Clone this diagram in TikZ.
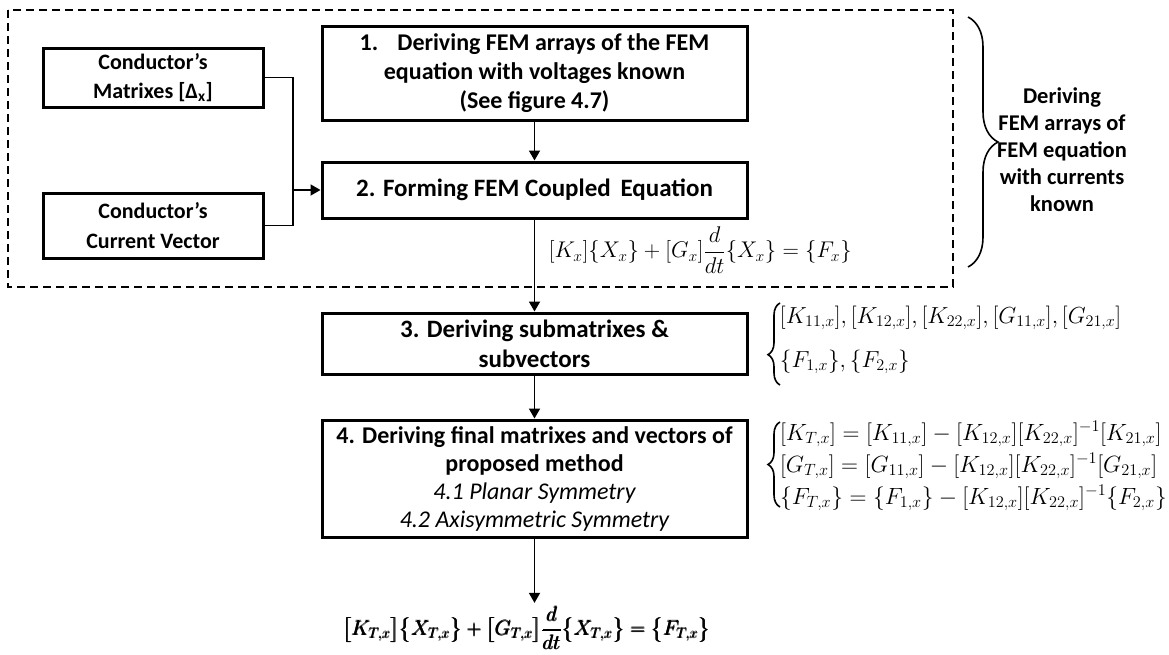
\documentclass[tikz,border=0pt]{standalone}
\usepackage{amsmath, amssymb}
\usepackage{fontspec}
\setmainfont{Carlito}
\usepackage{tikz}
\usetikzlibrary{arrows.meta, decorations.pathreplacing}

\newcommand{\resulteq}{%
  $\pmb{\bigl[K_{T,x}\bigr]\bigl\{X_{T,x}\bigr\} + \bigl[G_{T,x}\bigr]\dfrac{d}{dt}\bigl\{X_{T,x}\bigr\} = \bigl\{F_{T,x}\bigr\}}$}

\tikzset{
  stepbox/.style={draw, line width=3pt, align=center, inner sep=2pt,
    font=\fontsize{24}{29}\selectfont\bfseries},
  arr/.style={-{Triangle[length=10pt,width=11pt]}, line width=1.8pt},
  conn/.style={line width=1.8pt},
  grp/.style={line width=1.8pt, dash pattern=on 8pt off 5pt},
  brc/.style={decorate, decoration={brace, amplitude=#1}, line width=1.6pt},
}

\begin{document}
\begin{tikzpicture}[x=1pt, y=-1pt]
    \useasboundingbox (0,0) rectangle (1169,654);

    % group with currents known
    \draw[grp] (8,10) rectangle (953,287);

    % Step 1
    \node[stepbox,minimum width=425pt,minimum height=94pt] (derive) at (534.5,73)
      {1.\hspace{0.5em} Deriving FEM arrays of the FEM\\ equation with voltages known\\ (See figure 4.7)};

    % Step 2
    \node[stepbox,minimum width=425pt,minimum height=56pt,font=\fontsize{25}{30}\selectfont\bfseries] (couple) at (534.5,190)
      {2. Forming FEM Coupled\, Equation};

    % Conductor inputs
    \node[stepbox,minimum width=220pt,minimum height=59pt,font=\fontsize{22}{29}\selectfont\bfseries] (condmat) at (153,77.5)
      {Conductor’s\\ Matrixes [Δ\textsubscript{x}]};
    \node[stepbox,minimum width=220pt,minimum height=65pt,font=\fontsize{22}{30}\selectfont\bfseries] (condcur) at (153,225.5)
      {Conductor’s\\ Current Vector};
    \coordinate (join) at (293,190);

    % coupled equation
    \node[anchor=west,scale=1.095,transform shape,font=\fontsize{20.74}{24}\selectfont] (coupeq) at (545,250)
      {$[K_x]\{X_x\} + [G_x]\dfrac{d}{dt}\{X_x\} = \{F_x\}$};

    % brace for the group
    \draw[brc=30pt] (968,17) -- (968,267);
    \node[align=center,font=\fontsize{22.5}{27}\selectfont\bfseries] (grptext) at (1062,150)
      {Deriving\\ FEM arrays of\\ FEM equation\\ with currents\\ known};

    % Step 3
    \node[stepbox,minimum width=425pt,minimum height=61pt,font=\fontsize{25}{30}\selectfont\bfseries] (subm) at (534.5,343.5)
      {3. Deriving submatrixes \&\\ subvectors};
    \draw[brc=12pt,decoration={aspect=0.37}] (780,385) -- (780,303);
    \node[anchor=west,align=left,scale=1.12,transform shape,font=\fontsize{20.74}{39.3}\selectfont] (subeqs) at (776,340)
      {$[K_{11,x}],[K_{12,x}],[K_{22,x}],[G_{11,x}],[G_{21,x}]$\\
       $\{F_{1,x}\},\{F_{2,x}\}$};

    % Step 4
    \node[stepbox,minimum width=425pt,minimum height=117pt,font=\fontsize{24}{28}\selectfont\bfseries] (final) at (534.5,478.5)
      {4. Deriving final matrixes and vectors of\\ proposed method\\
       {\normalfont\itshape 4.1 Planar Symmetry}\\
       {\normalfont\itshape 4.2 Axisymmetric Symmetry}};
    \draw[brc=12pt] (780,507) -- (780,422);
    \node[anchor=west,align=left,scale=1.133,transform shape,font=\fontsize{20.74}{28.2}\selectfont] (fineqs) at (776,466)
      {$[K_{T,x}] = [K_{11,x}] - [K_{12,x}][K_{22,x}]^{-1}[K_{21,x}]$\\
       $[G_{T,x}] = [G_{11,x}] - [K_{12,x}][K_{22,x}]^{-1}[G_{21,x}]$\\
       $\{F_{T,x}\} = \{F_{1,x}\} - [K_{12,x}][K_{22,x}]^{-1}\{F_{2,x}\}$};

    % result
    \node[font=\fontsize{20.74}{26}\selectfont] (outeq) at (527,628) {\resulteq};

    % Arrows
    \draw[arr] (derive) -- (couple);
    \draw[conn] (condmat.east) -| (join);
    \draw[conn] (condcur.east) -| (join);
    \draw[arr] (join) -- (couple.west);
    \draw[arr] (couple) -- (subm);
    \draw[arr] (subm) -- (final);
    \draw[arr] (final.south) -- (final.south |- outeq.north);
\end{tikzpicture}
\end{document}
